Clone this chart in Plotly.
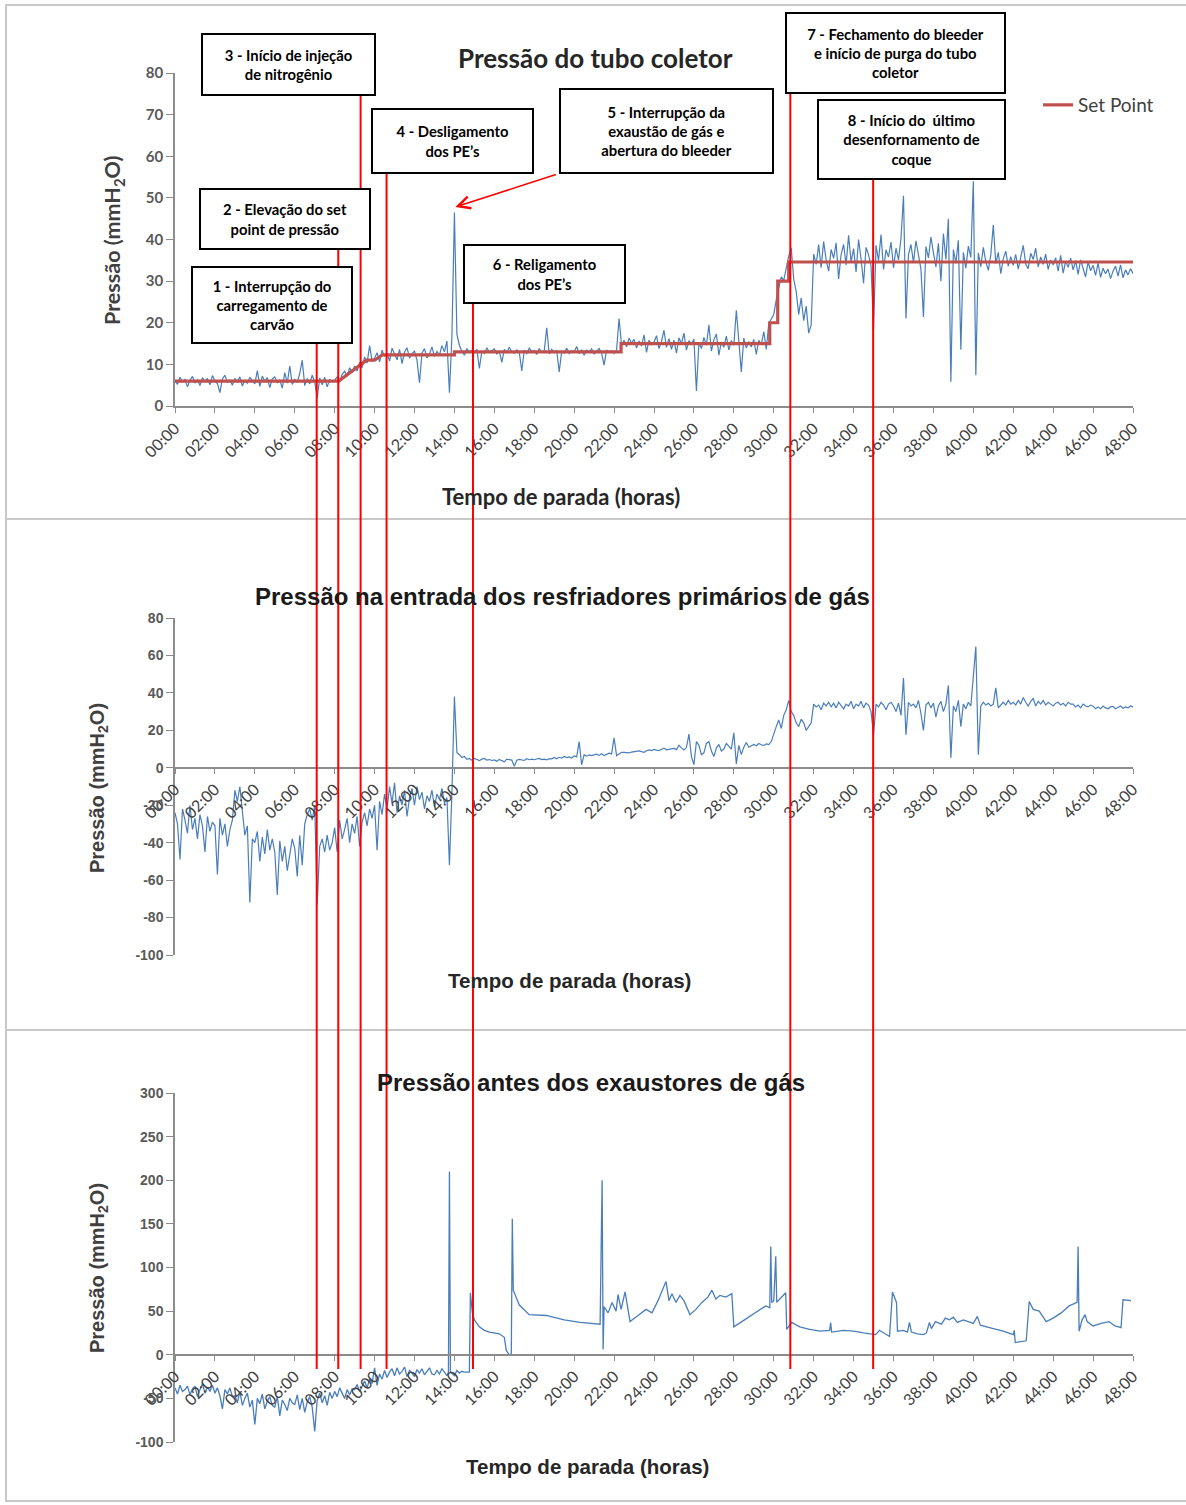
import plotly.graph_objects as go

# ---------------- data ----------------
tick_hours = [0, 2, 4, 6, 8, 10, 12, 14, 16, 18, 20, 22, 24, 26, 28, 30, 32, 34, 36, 38, 40, 42, 44, 46, 48]
tick_labels = ["00:00", "02:00", "04:00", "06:00", "08:00", "10:00", "12:00", "14:00", "16:00",
               "18:00", "20:00", "22:00", "24:00", "26:00", "28:00", "30:00", "32:00", "34:00",
               "36:00", "38:00", "40:00", "42:00", "44:00", "46:00", "48:00"]
y2_ticks = [-100, -80, -60, -40, -20, 0, 20, 40, 60, 80]
y2_labels = ["-100", "-80", "-60", "-40", "-20", "0", "20", "40", "60", "80"]
y3_ticks = [-100, -50, 0, 50, 100, 150, 200, 250, 300]
y3_labels = ["-100", "-50", "0", "50", "100", "150", "200", "250", "300"]

# sampling grid (hours) for panels 1 and 2: every 1/8 hour
grid_hours = [k / 8 for k in range(0, 385)]

# Panel 1 - Pressão do tubo coletor (mmH2O), 8 samples per hour
tubo_coletor = [
    6.0, 5.2, 6.9, 5.8, 6.4, 4.6, 6.2, 7.1,
    5.5, 6.3, 4.9, 6.8, 5.9, 6.6, 5.1, 7.3,
    6.0, 5.4, 3.2, 6.5, 7.4, 5.7, 6.3, 5.0,
    6.6, 5.8, 7.0, 4.8, 6.1, 5.5, 6.9, 6.2,
    5.3, 8.5, 4.7, 7.2, 5.9, 6.8, 4.4, 6.5,
    7.0, 5.6, 6.2, 4.3, 8.0, 5.5, 9.6, 5.2,
    6.4, 5.7, 7.8, 11.0, 4.9, 6.6, 5.3, 7.4,
    5.8, 2.0, 6.7, 5.1, 6.9, 4.6, 6.3, 5.9,
    6.2, 7.0, 5.8, 7.6, 8.4, 7.1, 9.2, 8.0,
    9.6, 8.4, 10.5, 9.2, 11.8, 10.3, 14.5, 10.8,
    11.5, 12.8, 10.6, 13.4, 11.9, 12.7, 10.8, 13.9,
    12.4, 11.1, 13.6, 10.2, 12.9, 14.0, 11.5, 12.6,
    13.2, 11.0, 5.6, 12.7, 13.8, 11.6, 12.4, 14.2,
    11.9, 13.1, 12.2, 14.5, 13.0, 15.6, 3.2, 16.8,
    46.5, 17.2, 14.6, 13.1, 12.2, 13.8, 12.9, 13.4,
    12.8, 13.6, 9.0, 13.2, 12.6, 14.0, 12.9, 13.3,
    13.7, 12.5, 13.2, 10.5, 13.6, 12.8, 14.1, 13.0,
    12.7, 13.5, 12.9, 8.4, 13.4, 12.6, 13.9, 13.1,
    13.3, 12.4, 13.8, 12.9, 13.2, 18.8, 12.5, 13.6,
    12.8, 13.4, 8.2, 13.1, 12.7, 13.9, 12.6, 13.3,
    13.0, 14.3, 12.6, 13.5, 12.2, 13.4, 12.9, 13.7,
    12.5, 13.2, 13.8, 12.7, 9.8, 13.5, 12.8, 13.3,
    12.6, 13.5, 21.0, 14.6, 15.8, 14.2, 16.3, 15.1,
    16.0, 13.9, 15.6, 14.4, 17.1, 12.9, 15.8, 14.7,
    15.3, 16.9, 13.8, 15.5, 18.2, 14.1, 16.2, 13.6,
    15.8, 12.7, 16.4, 14.9, 17.5, 13.4, 15.7, 14.8,
    16.1, 3.6, 15.2, 13.8, 16.5, 14.6, 19.5, 13.2,
    15.9, 17.3, 12.2, 15.4, 14.1, 16.8, 13.5, 15.7,
    14.6, 23.0, 15.1, 8.2, 16.3, 13.9, 15.5, 14.2,
    16.0, 12.4, 15.8, 14.7, 17.9, 13.6, 19.8, 21.0,
    22.0, 25.5, 28.0, 31.0, 30.2, 33.5, 36.0, 38.0,
    30.5, 27.5, 22.0, 26.0, 20.5, 24.0, 17.5, 19.5,
    36.5, 34.0, 38.8, 33.2, 39.5, 35.1, 32.4, 37.6,
    35.5, 39.2, 30.5, 36.4, 38.8, 33.9, 41.0, 34.6,
    37.8, 32.2, 40.0, 35.3, 29.5, 38.1, 36.3, 33.7,
    18.5, 38.6, 34.9, 41.2, 32.8, 37.5, 35.8, 39.4,
    33.2, 37.9, 35.1, 40.3, 50.5, 21.0, 36.4, 38.8,
    34.5, 39.7, 36.2, 32.9, 21.4, 38.3, 35.6, 40.6,
    36.8, 33.4, 39.1, 30.0, 41.4, 35.2, 45.0, 5.8,
    37.6, 34.3, 39.8, 13.5, 36.9, 33.1, 38.4, 35.7,
    54.0, 7.4, 36.8, 33.5, 38.1, 34.7, 32.6, 36.3,
    43.5, 34.2, 36.9, 31.8, 35.4, 37.2, 33.6, 35.9,
    33.8, 36.4, 32.9, 35.6, 38.6, 34.1, 33.0, 36.7,
    35.2, 37.9, 33.4, 35.8, 34.0, 36.5, 32.8, 35.1,
    33.9, 35.6, 32.4, 36.2, 31.9, 34.8, 33.3, 35.5,
    32.7, 34.9, 31.6, 35.1, 33.2, 31.0, 34.6, 32.5,
    33.8, 31.4, 34.3, 30.9, 33.1, 31.8, 32.9, 30.6,
    32.4, 33.6, 31.2, 33.9, 30.8, 32.7, 31.5, 33.0,
    31.8,
]

# Set point (step line)
sp_hours = [0, 8.2, 9.6, 10.0, 10.4, 14.0, 14.0, 22.35, 22.35, 29.8, 29.8, 30.2, 30.2, 30.75, 30.75, 48]
sp_values = [6, 6, 11, 11, 12.3, 12.3, 13, 13, 15, 15, 20, 20, 30, 30, 34.6, 34.6]

# Panel 2 - Pressão na entrada dos resfriadores primários de gás (mmH2O), 8 samples per hour
resfriadores = [
    -24, -30, -49, -22, -28, -35, -20, -33,
    -27, -38, -25, -31, -45, -26, -34, -29,
    -31, -57, -27, -36, -30, -42, -33, -28,
    -12, -18, -10, -22, -36, -31, -72, -38,
    -40, -34, -50, -37, -46, -33, -44, -38,
    -45, -68, -39, -50, -42, -55, -47, -38,
    -43, -58, -36, -52, -30, -25, -22, -28,
    -20, -73, -42, -38, -45, -36, -44, -40,
    -32, -45, -28, -38, -33, -27, -40, -30,
    -35, -26, -42, -29, -24, -31, -22, -27,
    -20, -44, -18, -25, -14, -22, -10, -19,
    -8, -24, -15, -20, -12, -26, -16, -11,
    -20, -10, -17, -13, -22, -15, -18, -12,
    -21, -14, -17, -11, -19, -16, -52, -13,
    38, 8, 7, 5.5, 6, 4.5, 5, 4,
    5, 4.2, 3.8, 4.6, 5, 4.1, 4.4, 3.9,
    4.2, 3.5, 4.5, 3.8, 3.2, 4.6, 4.4, 4.1,
    0.8, 4, 4.5, 4.2, 3.9, 4.8, 4.3, 4.6,
    4.3, 4.7, 5, 4.4, 4.6, 4.2, 4.9, 4.8,
    5.5, 4.8, 5.6, 5.2, 6, 5.4, 5.8, 5.2,
    6.3, 5.8, 14, 1.6, 7, 6.2, 6.9, 6.5,
    6.8, 7.3, 6.6, 7.5, 6.5, 7.2, 7.8, 7.4,
    16, 6.5, 7.5, 8.3, 8.2, 7.9, 8, 8.4,
    8.5, 8.8, 9, 8.6, 8.3, 9.1, 9.5, 9.2,
    9.8, 9.4, 9.2, 9.9, 10.5, 9.6, 9.9, 10.2,
    10.3, 9.7, 12, 10.6, 9.5, 10.8, 18, 6,
    1.6, 14, 12, 7, 8, 13, 14, 9,
    6, 10.5, 12.5, 9, 10, 13, 11.5, 10,
    18.7, 2, 12, 7, 11, 13.5, 11, 12,
    12.5, 11.8, 13, 12.3, 11.9, 12.8, 12.4, 14,
    18.6, 22, 25.6, 21, 28, 31, 36, 30,
    28, 24, 22, 26, 24, 20, 22, 24,
    34, 32.5, 33.5, 31, 34.5, 33, 35, 32.5,
    34.5, 32, 35, 33, 31.5, 34, 33, 35.5,
    31.5, 34, 33, 35.5, 32, 34.5, 33.5, 30,
    17.6, 34, 32.5, 35, 33.5, 31, 34, 35,
    33, 30, 34.5, 28, 48, 17.6, 35, 33,
    34, 32, 36, 29, 20, 33.5, 35, 32,
    34.5, 27, 33, 35.5, 30, 34, 44, 5.3,
    33, 30, 36, 22, 34, 31.5, 35, 33,
    50.6, 64.7, 7, 33, 35, 33.5, 34.5, 33,
    34, 42.7, 32, 33.5, 35, 33.5, 36, 34,
    35, 33.5, 36, 34, 37.5, 35, 33, 35.5,
    37, 33, 35.5, 34, 36, 33.5, 35, 34,
    33, 34.5, 35, 33.5, 34.5, 33, 35, 34,
    34, 32.5, 33.5, 32, 34, 33, 32.5, 33.5,
    33, 31.5, 32.5, 31.5, 33, 32, 31.5, 32.5,
    32.8, 31.5, 32.5, 33, 31.8, 32.5, 32, 33,
    32.5,
]

# Panel 3 - Pressão antes dos exaustores de gás (mmH2O)
exaustores_hours = (
    [k / 8 for k in range(0, 110)] +
    [13.7, 13.75, 13.8, 14.0, 14.125, 14.25, 14.375, 14.5, 14.75, 14.8, 14.9,
     15.0, 15.25, 15.5, 15.75, 16.0, 16.25, 16.5, 16.6, 16.75, 16.85, 16.9, 16.95,
     17.25, 17.75, 18.6, 19.5, 20.3, 21.3, 21.4, 21.45, 21.5,
     21.7, 21.9, 22.1, 22.2, 22.35, 22.55, 22.8,
     23.2, 23.6, 23.9, 24.2, 24.6, 24.75, 24.9, 25.1, 25.3, 25.5, 25.8,
     26.1, 26.4, 26.7, 26.9, 27.1, 27.3, 27.6, 27.9, 28.0,
     28.4, 28.8, 29.2, 29.6, 29.8, 29.85, 29.9, 30.0, 30.1, 30.15, 30.35, 30.6, 30.65,
     30.9, 31.3, 31.8, 32.3, 32.8, 32.85, 32.9, 33.5, 34.0, 34.5, 35.1, 35.3, 35.8, 35.95, 36.15, 36.2,
     36.5, 36.7, 36.8, 36.9, 37.2, 37.5, 37.65, 37.8, 37.9, 38.1, 38.4, 38.6, 38.8, 39.0, 39.2, 39.5,
     39.8, 40.0, 40.2, 40.35,
     41.0, 41.5, 42.0, 42.05, 42.1, 42.65, 42.8, 43.0, 43.3, 43.65, 44.0, 44.4, 44.8, 45.2, 45.25, 45.3,
     45.45, 45.6, 45.7, 46.0, 46.4, 46.8, 47.1, 47.4, 47.5, 47.9]
)
exaustores = [
    -38, -45, -35, -42, -40, -36, -46, -39,
    -36, -48, -40, -33, -44, -37, -42, -35,
    -44, -38, -47, -62, -40, -45, -38, -48,
    -47, -55, -42, -58, -50, -44, -60, -52,
    -80, -50, -56, -45, -62, -53, -48, -58,
    -60, -48, -70, -52, -57, -64, -50, -55,
    -57, -46, -63, -50, -66, -54, -48, -60,
    -88, -52, -44, -55, -47, -58, -43, -50,
    -42, -48, -38, -45, -50, -40, -46, -39,
    -40, -34, -42, -36, -30, -38, -28, -33,
    -15, -35, -22, -28, -18, -26, -20, -16,
    -24, -15, -22, -19, -14, -25, -18, -21,
    -25, -17, -21, -16, -23, -19, -15, -22,
    -23, -18, -22, -16, -20, -24,
    -20, 210, -20, -24, -18, -21, -19, -20, -20, 71, 48,
    40, 32, 28, 26, 25, 24, 20, 5, 0, 1, 156, 74,
    57, 46, 45, 40, 37, 35, 200, 6, 55,
    48, 60, 50, 69, 52, 72, 38,
    45, 52, 48, 62, 84, 62, 70, 60, 68, 62, 46,
    52, 60, 66, 74, 64, 68, 66, 70, 32,
    38, 44, 50, 56, 54, 124, 60, 62, 113, 60, 65, 71, 29,
    37, 32, 29, 27, 28, 37, 26, 28, 27, 25, 23, 28, 21, 72, 60, 27,
    28, 26, 37, 26, 24, 23, 25, 37, 30, 38, 35, 42, 40, 43, 37, 40,
    38, 36, 44, 34,
    30, 27, 23, 28, 14, 16, 61, 52, 50, 38, 42, 48, 56, 60, 124, 27,
    40, 46, 38, 33, 36, 38, 33, 31, 63, 62,
]

# events (hours) marked by red vertical lines, with their box numbers
event_hours = [7.10, 8.18, 9.30, 10.60, 14.93, 30.83, 34.98]
event_labels = ["1", "2", "3", "4", "6", "7", "8"]
spike_hour, spike_value = 14.0, 46.5

box_texts = {
    "1": "1 - Interrupção do<br>carregamento de<br>carvão",
    "2": "2 - Elevação do set<br>point de pressão",
    "3": "3 - Início de injeção<br>de nitrogênio",
    "4": "4 - Desligamento<br>dos PE’s",
    "5": "5 - Interrupção da<br>exaustão de gás e<br>abertura do bleeder",
    "6": "6 - Religamento<br>dos PE’s",
    "7": "7 - Fechamento do bleeder<br>e início de purga do tubo<br>coletor",
    "8": "8 - Início do  último<br>desenfornamento de<br>coque",
}

# ---------------- layout helpers ----------------
# body margin is removed by a post script, so figure pixels == window pixels
W, H = 1186, 1505


def fx(px):
    return px / W


def fy(py):
    return 1 - py / H


X0, X1 = 175, 1133
CAL = "Lato, 'Open Sans', sans-serif"
ARI = "'Liberation Sans', Arial, sans-serif"
BLUE = "#4A7EBB"
AXC = "#8C8C8C"

fig = go.Figure()

fig.add_trace(go.Scatter(x=grid_hours, y=tubo_coletor, mode="lines",
                         line=dict(color=BLUE, width=1.2), showlegend=False,
                         xaxis="x", yaxis="y"))
fig.add_trace(go.Scatter(x=sp_hours, y=sp_values, mode="lines", name="Set Point",
                         line=dict(color="#C0504D", width=3.2), showlegend=True,
                         xaxis="x", yaxis="y"))
fig.add_trace(go.Scatter(x=grid_hours, y=resfriadores, mode="lines",
                         line=dict(color=BLUE, width=1.2), showlegend=False,
                         xaxis="x2", yaxis="y2"))
fig.add_trace(go.Scatter(x=exaustores_hours, y=exaustores, mode="lines",
                         line=dict(color=BLUE, width=1.3), showlegend=False,
                         xaxis="x3", yaxis="y3"))

xcommon = dict(range=[0, 48], tickmode="array", tickvals=tick_hours, ticktext=tick_labels,
               tickangle=-45, showline=True, linecolor=AXC, linewidth=1.5,
               ticks="outside", ticklen=5, tickcolor=AXC, showgrid=False, zeroline=False,
               domain=[fx(X0), fx(X1)], automargin=False, fixedrange=True)
ycommon = dict(showline=True, linecolor=AXC, linewidth=1.5, ticks="outside", ticklen=7,
               tickcolor=AXC, showgrid=False, zeroline=False, automargin=False, fixedrange=True)

fig.update_layout(
    width=W, height=H, margin=dict(l=0, r=0, t=0, b=0),
    paper_bgcolor="white", plot_bgcolor="rgba(0,0,0,0)",
    xaxis=dict(xcommon, anchor="y", tickfont=dict(family=CAL, size=16, color="#404040")),
    yaxis=dict(ycommon, anchor="x", range=[0, 80], dtick=10, domain=[fy(406), fy(73)],
               tickfont=dict(family=CAL, size=15, color="#595959", weight="bold")),
    xaxis2=dict(xcommon, anchor="free", position=fy(768),
                tickfont=dict(family=CAL, size=16, color="#404040")),
    yaxis2=dict(ycommon, anchor="x2", range=[-100, 80], tickmode="array",
                tickvals=y2_ticks, ticktext=y2_labels, domain=[fy(955), fy(618)],
                tickfont=dict(family=ARI, size=14, color="#595959", weight="bold")),
    xaxis3=dict(xcommon, anchor="free", position=fy(1355),
                tickfont=dict(family=CAL, size=16, color="#404040")),
    yaxis3=dict(ycommon, anchor="x3", range=[-100, 300], tickmode="array",
                tickvals=y3_ticks, ticktext=y3_labels, domain=[fy(1442), fy(1093)],
                tickfont=dict(family=ARI, size=14, color="#595959", weight="bold")),
    legend=dict(x=fx(1038), y=fy(105), xanchor="left", yanchor="middle",
                bgcolor="rgba(0,0,0,0)", font=dict(family=CAL, size=19, color="#404040"),
                itemclick=False),
)

shapes = []
# frame and panel separators
shapes.append(dict(type="rect", xref="paper", yref="paper", x0=fx(6), x1=fx(1200),
                   y0=fy(1501), y1=fy(5), line=dict(color="#C8C8C8", width=2), layer="below"))
for sep in (519, 1030):
    shapes.append(dict(type="line", xref="paper", yref="paper", x0=fx(6), x1=1,
                       y0=fy(sep), y1=fy(sep), line=dict(color="#C8C8C8", width=2)))

# red event lines, from the bottom of their box down to the lowest panel
line_tops = {"1": 344, "2": 250, "3": 96, "4": 174, "6": 304, "7": 94, "8": 180}
for h, lab in zip(event_hours, event_labels):
    shapes.append(dict(type="line", xref="x", yref="paper", x0=h, x1=h,
                       y0=fy(1369), y1=fy(line_tops[lab]),
                       line=dict(color="#FF0000", width=2), layer="above"))
fig.update_layout(shapes=shapes)

ann = []
# boxes: (label, center x, center y, width, height) in window pixels
box_geom = [("1", 271.7, 305, 162, 78), ("2", 285, 219, 172, 62), ("3", 288, 65, 175, 63),
            ("4", 452, 141, 163, 66), ("5", 666.3, 131, 215, 86), ("6", 544, 274, 163, 60),
            ("7", 895.2, 53, 221, 82), ("8", 911.2, 140, 189, 81)]
for lab, cx, cy, bw, bh in box_geom:
    ann.append(dict(xref="paper", yref="paper", x=fx(cx), y=fy(cy), xanchor="center",
                    yanchor="middle", text="<b>" + box_texts[lab] + "</b>", showarrow=False,
                    width=bw - 4, height=bh - 4, align="center", valign="middle",
                    bordercolor="black", borderwidth=2, borderpad=0, bgcolor="white",
                    font=dict(family=CAL, size=14.8, color="black")))

# arrow from box 5 to the spike
ann.append(dict(xref="x", yref="y", x=spike_hour + 0.05, y=spike_value + 1.3, text="",
                showarrow=True, arrowhead=5, arrowsize=1.5, arrowwidth=1.6,
                arrowcolor="#FF0000", ax=102, ay=-33, axref="pixel", ayref="pixel"))

# titles
ann.append(dict(xref="paper", yref="paper", x=fx(595), y=fy(58), text="<b>Pressão do tubo coletor</b>",
                showarrow=False, xanchor="center", yanchor="middle",
                font=dict(family=CAL, size=26, color="#262626")))
ann.append(dict(xref="paper", yref="paper", x=fx(562), y=fy(596),
                text="<b>Pressão na entrada dos resfriadores primários de gás</b>",
                showarrow=False, xanchor="center", yanchor="middle",
                font=dict(family=ARI, size=24, color="#1a1a1a")))
ann.append(dict(xref="paper", yref="paper", x=fx(591), y=fy(1082),
                text="<b>Pressão antes dos exaustores de gás</b>",
                showarrow=False, xanchor="center", yanchor="middle",
                font=dict(family=ARI, size=24, color="#1a1a1a")))

# axis titles
for cx, cy, fam, sz in [(561, 496, CAL, 22), (569, 980, ARI, 20.5), (587, 1466, ARI, 20.5)]:
    ann.append(dict(xref="paper", yref="paper", x=fx(cx), y=fy(cy),
                    text="<b>Tempo de parada (horas)</b>", showarrow=False,
                    xanchor="center", yanchor="middle", font=dict(family=fam, size=sz, color="#262626")))
for cx, cy, fam, sz in [(114, 240, CAL, 21.5), (98, 788, ARI, 20), (98, 1268, ARI, 20)]:
    ann.append(dict(xref="paper", yref="paper", x=fx(cx), y=fy(cy), textangle=-90,
                    text="<b>Pressão (mmH<sub>2</sub>O)</b>", showarrow=False,
                    xanchor="center", yanchor="middle", font=dict(family=fam, size=sz, color="#404040")))

fig.update_layout(annotations=ann)

fig.write_html("out.html", config={"displayModeBar": False},
               post_script="document.body.style.margin='0px';document.body.style.overflow='hidden';")
